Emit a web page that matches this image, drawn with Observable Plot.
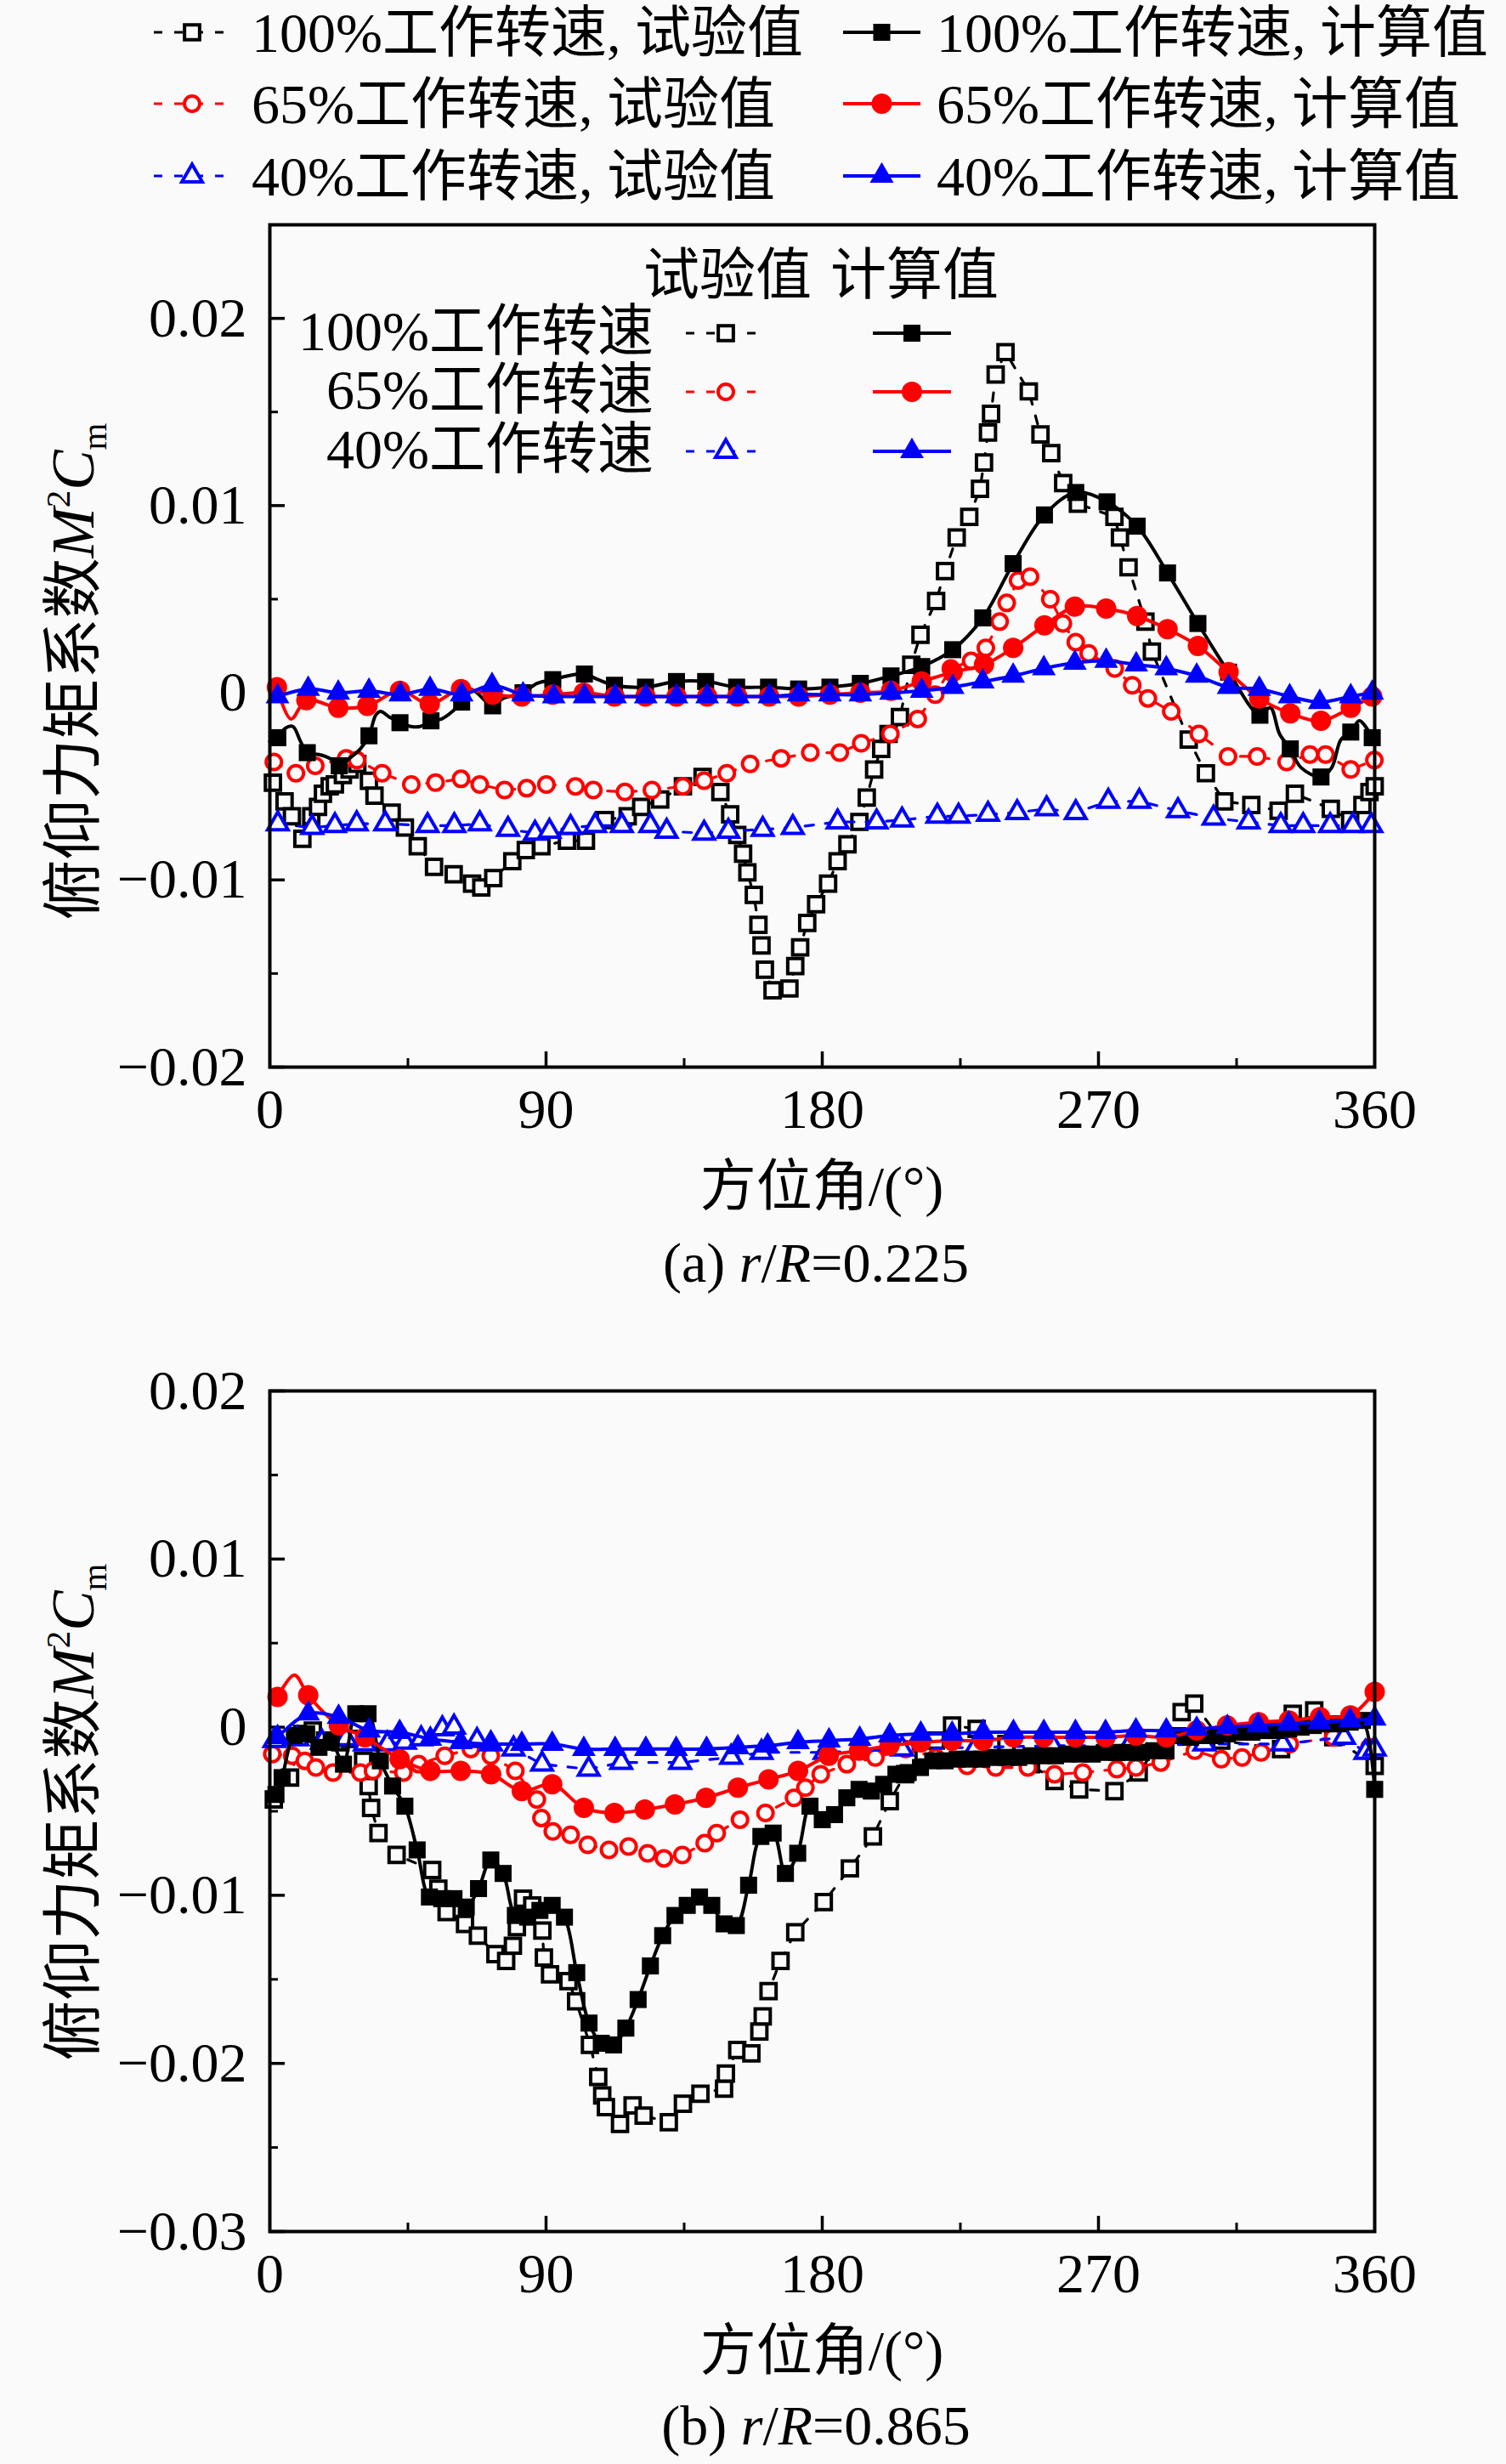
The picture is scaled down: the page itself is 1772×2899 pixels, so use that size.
<!DOCTYPE html>
<html><head><meta charset="utf-8">
<script src="https://cdn.jsdelivr.net/npm/d3@7"></script>
<script src="https://cdn.jsdelivr.net/npm/@observablehq/plot@0.6"></script>
<style>
body{margin:0;background:#fafafa;}
#wrap{position:relative;width:1772px;height:2899px;background:#fafafa;overflow:hidden;}
#wrap svg{position:absolute;left:0;}
</style></head><body><div id="wrap"></div>
<script>
const FONT = "'Liberation Serif','Times New Roman','Noto Sans CJK SC',serif";
const BG = "#fafafa";
const angleTicks = [0, 90, 180, 270, 360];
const angleMinor = [45, 135, 225, 315];
const yTicksA = [-0.02, -0.01, 0, 0.01, 0.02];
const yMinorA = [-0.015, -0.005, 0.005, 0.015];
const yTicksB = [-0.03, -0.02, -0.01, 0, 0.01, 0.02];
const yMinorB = [-0.025, -0.015, -0.005, 0.005, 0.015];
const speedNames = ["100%工作转速", "65%工作转速", "40%工作转速"];
const kindNames = ["试验值", "计算值"];
const colors = ["#000000", "#ff0000", "#0000ff"];
const symbolNames = ["square", "circle", "triangle"];
const d3Symbols = [d3.symbolSquare, d3.symbolCircle, d3.symbolTriangle];
const openR = [10, 9, 8.9];
const fillR = [11.3, 12, 10.4];
const DASH = "10,14";

// ---------- (a) r/R = 0.225 ----------
const exp100a = [[1,-0.0048],[4.8,-0.0058],[7.2,-0.0066],[10.6,-0.0078],[13.5,-0.0066],[15.7,-0.0061],[17.3,-0.0054],[19.5,-0.005],[21.2,-0.0049],[23.8,-0.0044],[26,-0.0041],[28.5,-0.0038],[32.3,-0.0047],[34.1,-0.0055],[39.7,-0.0064],[44,-0.0072],[48.2,-0.0082],[53.5,-0.0093],[59.9,-0.0097],[65.9,-0.0102],[68.9,-0.0104],[72.8,-0.0099],[79,-0.009],[83.4,-0.0084],[88.5,-0.0082],[96.8,-0.0079],[103,-0.0079],[109.2,-0.0068],[116.6,-0.0066],[121,-0.0061],[127.2,-0.0057],[134.6,-0.005],[141,-0.0045],[146.8,-0.0053],[150,-0.0065],[152.3,-0.0076],[154.2,-0.0086],[155.6,-0.0096],[157.7,-0.0108],[159.2,-0.0124],[160.2,-0.0135],[161.3,-0.0148],[163.8,-0.0159],[169.3,-0.0158],[171.2,-0.0146],[172.8,-0.0136],[175.1,-0.0123],[178,-0.0113],[181.9,-0.0102],[185,-0.009],[188.2,-0.0081],[192.1,-0.0069],[194.5,-0.0056],[196.9,-0.0041],[199.2,-0.003],[201.6,-0.0022],[205.3,-0.0013],[209,0.0015],[212,0.0031],[217.1,0.0049],[220,0.0065],[223.8,0.0083],[227.9,0.0094],[231.4,0.0109],[232.7,0.0123],[234,0.0139],[235,0.0149],[236.5,0.017],[239.7,0.0182],[247.3,0.0161],[251.1,0.0138],[254.6,0.0128],[258.5,0.0112],[263.3,0.0101],[275.2,0.0094],[277,0.0083],[279.8,0.0067],[285.3,0.0038],[287.4,0.0022],[299.4,-0.0025],[305,-0.0043],[311,-0.0058],[319.8,-0.006],[328.7,-0.0063],[334,-0.0054],[345.7,-0.0062],[352,-0.0068],[356,-0.006],[358.3,-0.0053],[360,-0.005]];
const calc100a = [[2.6,-0.0024],[12.2,-0.0032],[22.6,-0.0039],[32.3,-0.0023],[42.4,-0.0016],[52.5,-0.0015],[62.5,-0.0005],[72.6,-0.0007],[82.5,0],[92.2,0.0007],[102.5,0.001],[112.3,0.0004],[122.4,0.0003],[132.5,0.0006],[142,0.0006],[152.1,0.0003],[162.5,0.0003],[172.3,0.0002],[182.5,0.0003],[192.4,0.0005],[202.4,0.0009],[212.4,0.0014],[222.5,0.0023],[232.3,0.004],[242.2,0.0069],[252.4,0.0095],[262.6,0.0107],[272.8,0.0102],[282.6,0.0089],[292.5,0.0064],[302.4,0.0037],[312.4,0.0011],[322.6,-0.0012],[332.5,-0.003],[342.5,-0.0045],[352.2,-0.0021],[359.2,-0.0024]];
const calc100aShape = [[0,-0.0026],[5,-0.0019],[7.5,-0.0018],[10,-0.0026],[16,-0.0033],[19.5,-0.0035],[26,-0.0035],[29.5,-0.003],[34.5,-0.0012],[36,-0.001],[39,-0.0013],[46,-0.0018],[49,-0.0018],[56,-0.0014],[59.5,-0.001],[65,0.0002],[67.5,0],[70,-0.0004],[76,-0.0003],[87,0.0005],[97,0.0009],[107,0.0007],[326,-0.0008],[329,-0.0022],[336,-0.004],[346,-0.004],[349,-0.0025],[355,-0.0015]];
const exp65a = [[1.3,-0.0037],[8.5,-0.0043],[14.8,-0.0039],[24.9,-0.0035],[28.4,-0.0036],[36.6,-0.0043],[46.1,-0.0049],[54,-0.0048],[62.3,-0.0046],[68.4,-0.0049],[76.5,-0.0052],[83.7,-0.0051],[90.1,-0.0049],[99.6,-0.005],[105.4,-0.0052],[115.7,-0.0053],[124.5,-0.0052],[134.6,-0.005],[141.5,-0.0047],[148.9,-0.0043],[156.5,-0.0038],[166.6,-0.0035],[176.1,-0.0032],[185.7,-0.0032],[192.7,-0.0027],[202.2,-0.0022],[211.1,-0.0014],[216.8,-0.0001],[221.9,0.0013],[228.5,0.0017],[233.3,0.0024],[237.8,0.0038],[240.1,0.0048],[243.8,0.006],[247.7,0.0062],[254.3,0.005],[258.4,0.0037],[262.6,0.0027],[266.8,0.0021],[275.3,0.0013],[281,0.0004],[286.1,-0.0003],[293.7,-0.001],[302.7,-0.0022],[312.2,-0.0034],[321.7,-0.0034],[331.3,-0.0037],[338.9,-0.0033],[344,-0.0033],[352.2,-0.0041],[359.9,-0.0036]];
const calc65a = [[2.3,0.0003],[11.9,-0.0004],[22.3,-0.0008],[31.8,-0.0007],[42.4,0.0001],[52.1,-0.0006],[62.3,0.0002],[72.6,-0.0001],[82.1,-0.0002],[92.2,-0.0001],[102.3,0],[112.3,-0.0002],[122.4,-0.0002],[132.5,-0.0002],[142.5,-0.0002],[152.3,-0.0002],[162.7,-0.0002],[172.3,-0.0002],[182.5,-0.0001],[192.4,0],[202.4,0.0001],[212.4,0.0006],[222.5,0.0011],[232.7,0.0015],[242.2,0.0024],[252.4,0.0036],[262.3,0.0046],[272.5,0.0045],[282.6,0.0041],[292.5,0.0034],[302.4,0.0025],[312.4,0.0011],[322.4,-0.0003],[332.5,-0.0011],[342.5,-0.0015],[352.2,-0.0008],[359.2,-0.0002]];
const calc65aShape = [[6.9,-0.0014]];
const exp40a = [[2.6,-0.007],[13.8,-0.0072],[21.2,-0.0071],[28.3,-0.007],[37.6,-0.007],[51.4,-0.0071],[60.1,-0.0071],[68.4,-0.007],[77.6,-0.0073],[86.4,-0.0075],[91.1,-0.0074],[98,-0.0072],[106,-0.0071],[114.7,-0.0071],[124,-0.0071],[129.3,-0.0074],[141.5,-0.0075],[149.4,-0.0074],[160.6,-0.0073],[170.4,-0.0072],[185,-0.0069],[197.7,-0.0069],[206,-0.0068],[217.5,-0.0066],[224.4,-0.0066],[234,-0.0065],[243.5,-0.0064],[253.1,-0.0062],[262.6,-0.0064],[273.2,-0.0058],[283.3,-0.0058],[295.9,-0.0063],[307.5,-0.0067],[318.9,-0.0069],[329.4,-0.0071],[336.7,-0.0071],[345.5,-0.0071],[352.9,-0.0071],[358.9,-0.0071]];
const calc40a = [[2.5,-0.0002],[12.5,0.0002],[22.3,0],[32.3,0.0001],[42.5,-0.0001],[52.2,0.0002],[62.5,-0.0001],[72.4,0.0004],[82.5,-0.0001],[92.5,-0.0002],[102.5,-0.0002],[112.5,-0.0002],[122.5,-0.0002],[132.5,-0.0002],[142.5,-0.0002],[152.5,-0.0002],[162.8,-0.0002],[172.3,-0.0001],[182.5,-0.0001],[192.4,-0.0001],[202.4,0],[212.4,0.0001],[222.5,0.0003],[232.3,0.0006],[242.2,0.0009],[252.2,0.0013],[262.3,0.0016],[272.5,0.0017],[282.3,0.0015],[292.1,0.0013],[302,0.0009],[312.4,0.0003],[322.4,0.0002],[332.3,-0.0002],[342.1,-0.0005],[352.2,-0.0002],[359.2,0]];

// ---------- (b) r/R = 0.865 ----------
const exp100b = [[1.3,-0.0043],[6.6,-0.003],[10.5,-0.0004],[14,-0.0002],[18,-0.0008],[23,-0.0009],[26,-0.0007],[30.4,-0.002],[32.2,-0.0035],[33,-0.0048],[35.4,-0.0063],[41.3,-0.0076],[52.9,-0.0085],[54.9,-0.0096],[57.6,-0.011],[63.6,-0.0117],[67.8,-0.0124],[73.5,-0.0135],[77,-0.0139],[79.2,-0.013],[80.5,-0.0119],[82.5,-0.0102],[85.5,-0.0106],[88.8,-0.0121],[89.3,-0.0137],[91.3,-0.0147],[97.3,-0.0151],[99.8,-0.0163],[104.3,-0.0189],[107,-0.0208],[108.3,-0.0219],[109.5,-0.0226],[114.1,-0.0236],[118.2,-0.0225],[121.8,-0.0231],[130,-0.0235],[134.6,-0.0224],[140.3,-0.0218],[148,-0.0215],[148.6,-0.0206],[152.3,-0.0192],[156.9,-0.0194],[159.5,-0.0181],[160.6,-0.0172],[162.5,-0.0157],[166.4,-0.0139],[171.2,-0.0122],[180.5,-0.0104],[189,-0.0084],[196.5,-0.0065],[202,-0.0044],[207,-0.0028],[213,-0.0015],[217,-0.0008],[222.3,0.0001],[230.3,-0.0001],[240,-0.001],[248,-0.0022],[255.7,-0.0032],[263.7,-0.0037],[275.2,-0.0038],[283.1,-0.0027],[297.1,0.0009],[301.2,0.0014],[310,-0.0008],[329.5,-0.0013],[333.3,0.0008],[340.3,0.001],[346.5,-0.0006],[360,-0.0023]];
const calc100b = [[2,-0.004],[4,-0.003],[8,-0.0005],[12,-0.0004],[16,-0.0012],[20,-0.0009],[24,-0.0022],[28,0.0008],[32,0.0008],[36,-0.002],[40,-0.0035],[44,-0.0047],[48,-0.0073],[52,-0.0101],[56,-0.0102],[60,-0.0102],[64,-0.0107],[68,-0.0096],[72,-0.0079],[76,-0.0087],[80,-0.0112],[84,-0.0113],[88,-0.0109],[92,-0.0106],[96,-0.0113],[100,-0.0146],[104,-0.0176],[108,-0.0188],[112,-0.0189],[116,-0.0179],[120,-0.0162],[124,-0.0142],[128,-0.0124],[132,-0.0112],[136,-0.0106],[140,-0.0101],[144,-0.0106],[148,-0.0117],[152,-0.0118],[156,-0.0094],[160,-0.0065],[164,-0.0063],[168,-0.0087],[172,-0.0075],[176,-0.0047],[180,-0.0055],[184,-0.0052],[188,-0.0042],[192,-0.0037],[196,-0.0038],[200,-0.0034],[204,-0.0028],[208,-0.0027],[212,-0.0024],[216,-0.002],[220,-0.002],[224,-0.0019],[228,-0.0019],[232,-0.0019],[236,-0.0018],[240,-0.0018],[244,-0.0018],[248,-0.0017],[252,-0.0017],[256,-0.0017],[260,-0.0016],[264,-0.0016],[268,-0.0016],[272,-0.0015],[276,-0.0015],[280,-0.0015],[284,-0.0015],[288,-0.0014],[292,-0.0014],[296,-0.0005],[300,-0.0006],[304,-0.0005],[308,-0.0005],[312,-0.0004],[316,-0.0003],[320,-0.0003],[324,-0.0002],[328,-0.0002],[332,-0.0001],[336,0],[340,0.0001],[344,0.0002],[348,0.0002],[352,0.0003],[356,0.0004],[360,-0.0037]];
const exp65b = [[0.8,-0.0016],[7.3,-0.0017],[11.4,-0.002],[15,-0.0024],[20.6,-0.0027],[29.5,-0.0027],[33.6,-0.0026],[43.5,-0.0027],[48.5,-0.0022],[57,-0.0017],[65.5,-0.0013],[72,-0.0017],[80,-0.0026],[87,-0.0043],[88.5,-0.0054],[92.2,-0.0062],[98,-0.0064],[103.6,-0.007],[110.5,-0.0073],[116.9,-0.0071],[123.1,-0.0075],[128.4,-0.0078],[134.4,-0.0076],[141.7,-0.0069],[145.6,-0.0063],[153.2,-0.0055],[161.5,-0.0051],[170.8,-0.0042],[174.5,-0.0036],[179.5,-0.0028],[188,-0.0022],[197.3,-0.0018],[207.2,-0.0013],[217,-0.0018],[227.2,-0.0023],[236.5,-0.0024],[247,-0.0024],[255.7,-0.0028],[264.9,-0.0027],[276,-0.0025],[282.2,-0.0024],[290.3,-0.0021],[301.4,-0.0014],[310,-0.0019],[316.8,-0.0018],[323,-0.0015],[332.3,-0.001],[346.5,-0.0006],[358.3,-0.0012]];
const calc65b = [[2.5,0.0018],[12.5,0.0019],[22.5,0.0001],[31,-0.0006],[42.3,-0.0019],[52.3,-0.0026],[62.2,-0.0026],[72.1,-0.0028],[82.1,-0.0038],[92,-0.0034],[102.3,-0.0048],[112.3,-0.0051],[122.2,-0.0049],[132,-0.0046],[142.1,-0.0042],[152.5,-0.0036],[162.5,-0.0031],[172.1,-0.0026],[182.1,-0.0017],[192,-0.0014],[201.9,-0.0011],[212.1,-0.0009],[222.3,-0.0008],[232.4,-0.0008],[242.3,-0.0006],[252.2,-0.0006],[262.5,-0.0006],[272.3,-0.0006],[282.2,-0.0005],[292.1,-0.0006],[302,-0.0002],[311.9,0.0001],[322.2,0.0003],[332.1,0.0004],[342.2,0.0006],[352.1,0.0007],[360,0.0021]];
const calc65bShape = [[8,0.0031]];
const exp40b = [[1.5,-0.0008],[9,-0.0007],[17,-0.0009],[24.8,-0.0007],[31,-0.001],[38.3,-0.001],[44,-0.0009],[49.3,-0.0007],[56.2,-0.0001],[60,0],[67.5,-0.0008],[72,-0.001],[79.4,-0.0013],[88.7,-0.0022],[103.9,-0.0025],[114.5,-0.0021],[133.7,-0.0021],[150.3,-0.0018],[160.2,-0.0015],[180.8,-0.0015],[206,-0.0013],[230,-0.0012],[255,-0.0011],[280,-0.0011],[304.5,-0.001],[330,-0.001],[350,-0.0006],[357,-0.0015],[360,-0.0013]];
const calc40b = [[2.5,-0.0006],[12.5,0.0008],[22.4,0.0006],[32.3,-0.0002],[42.3,-0.0003],[52.3,-0.0007],[62.2,-0.0009],[72.1,-0.001],[82.1,-0.001],[92,-0.001],[102.3,-0.0013],[112.5,-0.0013],[122.5,-0.0013],[132.4,-0.0013],[142.3,-0.0013],[152.5,-0.0012],[162.2,-0.0011],[172.1,-0.0009],[182.2,-0.0008],[192.2,-0.0007],[202,-0.0005],[212.1,-0.0004],[222.3,-0.0004],[232.4,-0.0003],[242.3,-0.0003],[252.2,-0.0003],[262.5,-0.0003],[272.3,-0.0003],[282.2,-0.0002],[292.1,-0.0002],[302,-0.0001],[312,0],[322,0.0001],[332,0.0002],[342,0.0003],[352,0.0004],[360,0.0005]];

const fmtY = d => d === 0 ? "0" : d3.format(".2f")(d);
const W = 1772, ML = 317, MR = 155;

function panel(cfg) {
  const frameH = cfg.height - cfg.marginTop - cfg.marginBottom;
  const frameW = W - ML - MR;
  const X = d => d[0], Y = d => d[1];
  const marks = [
    Plot.axisX(angleTicks, {tickSize: 0, tickPadding: 25, fontSize: 66, label: null, tickFormat: d => String(d), fill: "black"}),
    Plot.axisY(cfg.yTicks, {tickSize: 0, tickPadding: 27, fontSize: 66, label: null, tickFormat: fmtY, fill: "black"}),
    Plot.ruleX(angleTicks.slice(1, -1), {insetTop: frameH - 18, stroke: "black", strokeWidth: 3.5}),
    Plot.ruleX(angleMinor, {insetTop: frameH - 10, stroke: "black", strokeWidth: 3}),
    Plot.ruleY(cfg.yTicks, {insetRight: frameW - 18, stroke: "black", strokeWidth: 3.5}),
    Plot.ruleY(cfg.yMinor, {insetRight: frameW - 10, stroke: "black", strokeWidth: 3})
  ];
  cfg.tests.forEach((s, i) => {
    marks.push(Plot.line(s, {x: X, y: Y, stroke: colors[i], strokeWidth: 3.2, strokeDasharray: DASH}));
    marks.push(Plot.dot(s, {x: X, y: Y, symbol: symbolNames[i], r: openR[i], stroke: colors[i], strokeWidth: 4, fill: BG}));
  });
  cfg.calcs.forEach((s, i) => {
    const lineData = d3.sort(s.concat(cfg.shapes[i] || []), d => d[0]);
    marks.push(Plot.line(lineData, {x: X, y: Y, stroke: colors[i], strokeWidth: 4, curve: "catmull-rom"}));
    marks.push(Plot.dot(s, {x: X, y: Y, symbol: symbolNames[i], r: fillR[i], fill: colors[i], stroke: "none"}));
  });
  marks.push(Plot.frame({stroke: "black", strokeWidth: 4}));
  const svg = Plot.plot({
    width: W, height: cfg.height, marginLeft: ML, marginRight: MR,
    marginTop: cfg.marginTop, marginBottom: cfg.marginBottom,
    x: {domain: [0, 360]}, y: {domain: cfg.yDomain},
    style: {fontFamily: FONT, background: "transparent", overflow: "visible", color: "black"},
    marks
  });
  svg.style.top = cfg.top + "px";
  const g = d3.select(svg).append("g").attr("font-family", FONT).attr("fill", "black").attr("text-anchor", "start");
  // y label
  const yl = g.append("text").attr("transform", `translate(110,${cfg.yLabelY}) rotate(-90)`)
    .attr("text-anchor", "middle").attr("font-size", 71);
  yl.append("tspan").text("俯仰力矩系数");
  yl.append("tspan").attr("font-style", "italic").text("M");
  yl.append("tspan").attr("font-size", 41).attr("dy", -28).text("2");
  yl.append("tspan").attr("font-style", "italic").attr("dy", 28).text("C");
  yl.append("tspan").attr("font-size", 41).attr("dy", 15).text("m");
  // x label
  g.append("text").attr("x", 967).attr("y", cfg.xLabelY).attr("text-anchor", "middle").attr("font-size", 66).text("方位角/(°)");
  // caption
  const cap = g.append("text").attr("x", 960).attr("y", cfg.captionY).attr("text-anchor", "middle").attr("font-size", 66);
  cap.append("tspan").text(cfg.capLetter + " ");
  cap.append("tspan").attr("font-style", "italic").text("r");
  cap.append("tspan").text("/");
  cap.append("tspan").attr("font-style", "italic").text("R");
  cap.append("tspan").text("=" + cfg.capValue);
  document.getElementById("wrap").appendChild(svg);
  return {svg, g};
}

function sample(g, x1, x2, y, i, kind) {
  const test = kind === 0;
  g.append("line").attr("x1", x1).attr("x2", x2).attr("y1", y).attr("y2", y)
    .attr("stroke", colors[i]).attr("stroke-width", test ? 3.2 : 4)
    .attr("stroke-dasharray", test ? DASH : null);
  const r = test ? openR[i] : fillR[i];
  g.append("path").attr("transform", `translate(${(x1 + x2) / 2},${y})`)
    .attr("d", d3.symbol(d3Symbols[i], Math.PI * r * r)())
    .attr("fill", test ? BG : colors[i])
    .attr("stroke", test ? colors[i] : "none")
    .attr("stroke-width", test ? 4 : 0);
}

const A = panel({
  top: 0, height: 1560, marginTop: 264, marginBottom: 305,
  yDomain: [-0.02, 0.025], yTicks: yTicksA, yMinor: yMinorA,
  tests: [exp100a, exp65a, exp40a], calcs: [calc100a, calc65a, calc40a],
  shapes: [calc100aShape, calc65aShape, []],
  yLabelY: 790, xLabelY: 1418, captionY: 1508, capLetter: "(a)", capValue: "0.225"
});
const B = panel({
  top: 1560, height: 1339, marginTop: 76, marginBottom: 274,
  yDomain: [-0.03, 0.02], yTicks: yTicksB, yMinor: yMinorB,
  tests: [exp100b, exp65b, exp40b], calcs: [calc100b, calc65b, calc40b],
  shapes: [[], calc65bShape, []],
  yLabelY: 572, xLabelY: 1228, captionY: 1316, capLetter: "(b)", capValue: "0.865"
});

// top legend (in panel A's svg, above the frame)
const gA = A.g;
const rowsY = [38, 122, 207];
speedNames.forEach((name, i) => {
  sample(gA, 181, 271, rowsY[i], i, 0);
  gA.append("text").attr("x", 296).attr("y", rowsY[i]).attr("text-anchor", "start").attr("dominant-baseline", "central").attr("font-size", 66)
    .text(name + ", " + kindNames[0]);
  sample(gA, 992, 1083, rowsY[i], i, 1);
  gA.append("text").attr("x", 1102).attr("y", rowsY[i]).attr("text-anchor", "start").attr("dominant-baseline", "central").attr("font-size", 66)
    .text(name + ", " + kindNames[1]);
});
// inner legend of panel (a)
gA.append("text").attr("x", 757).attr("y", 323).attr("text-anchor", "start").attr("dominant-baseline", "central").attr("font-size", 66).text(kindNames[0]);
gA.append("text").attr("x", 977).attr("y", 323).attr("text-anchor", "start").attr("dominant-baseline", "central").attr("font-size", 66).text(kindNames[1]);
const innerY = [392, 461, 531];
speedNames.forEach((name, i) => {
  gA.append("text").attr("x", 769).attr("y", innerY[i] - 3).attr("text-anchor", "end").attr("dominant-baseline", "central")
    .attr("font-size", 66).text(name);
  sample(gA, 807, 901, innerY[i], i, 0);
  sample(gA, 1027, 1119, innerY[i], i, 1);
});
</script></body></html>
